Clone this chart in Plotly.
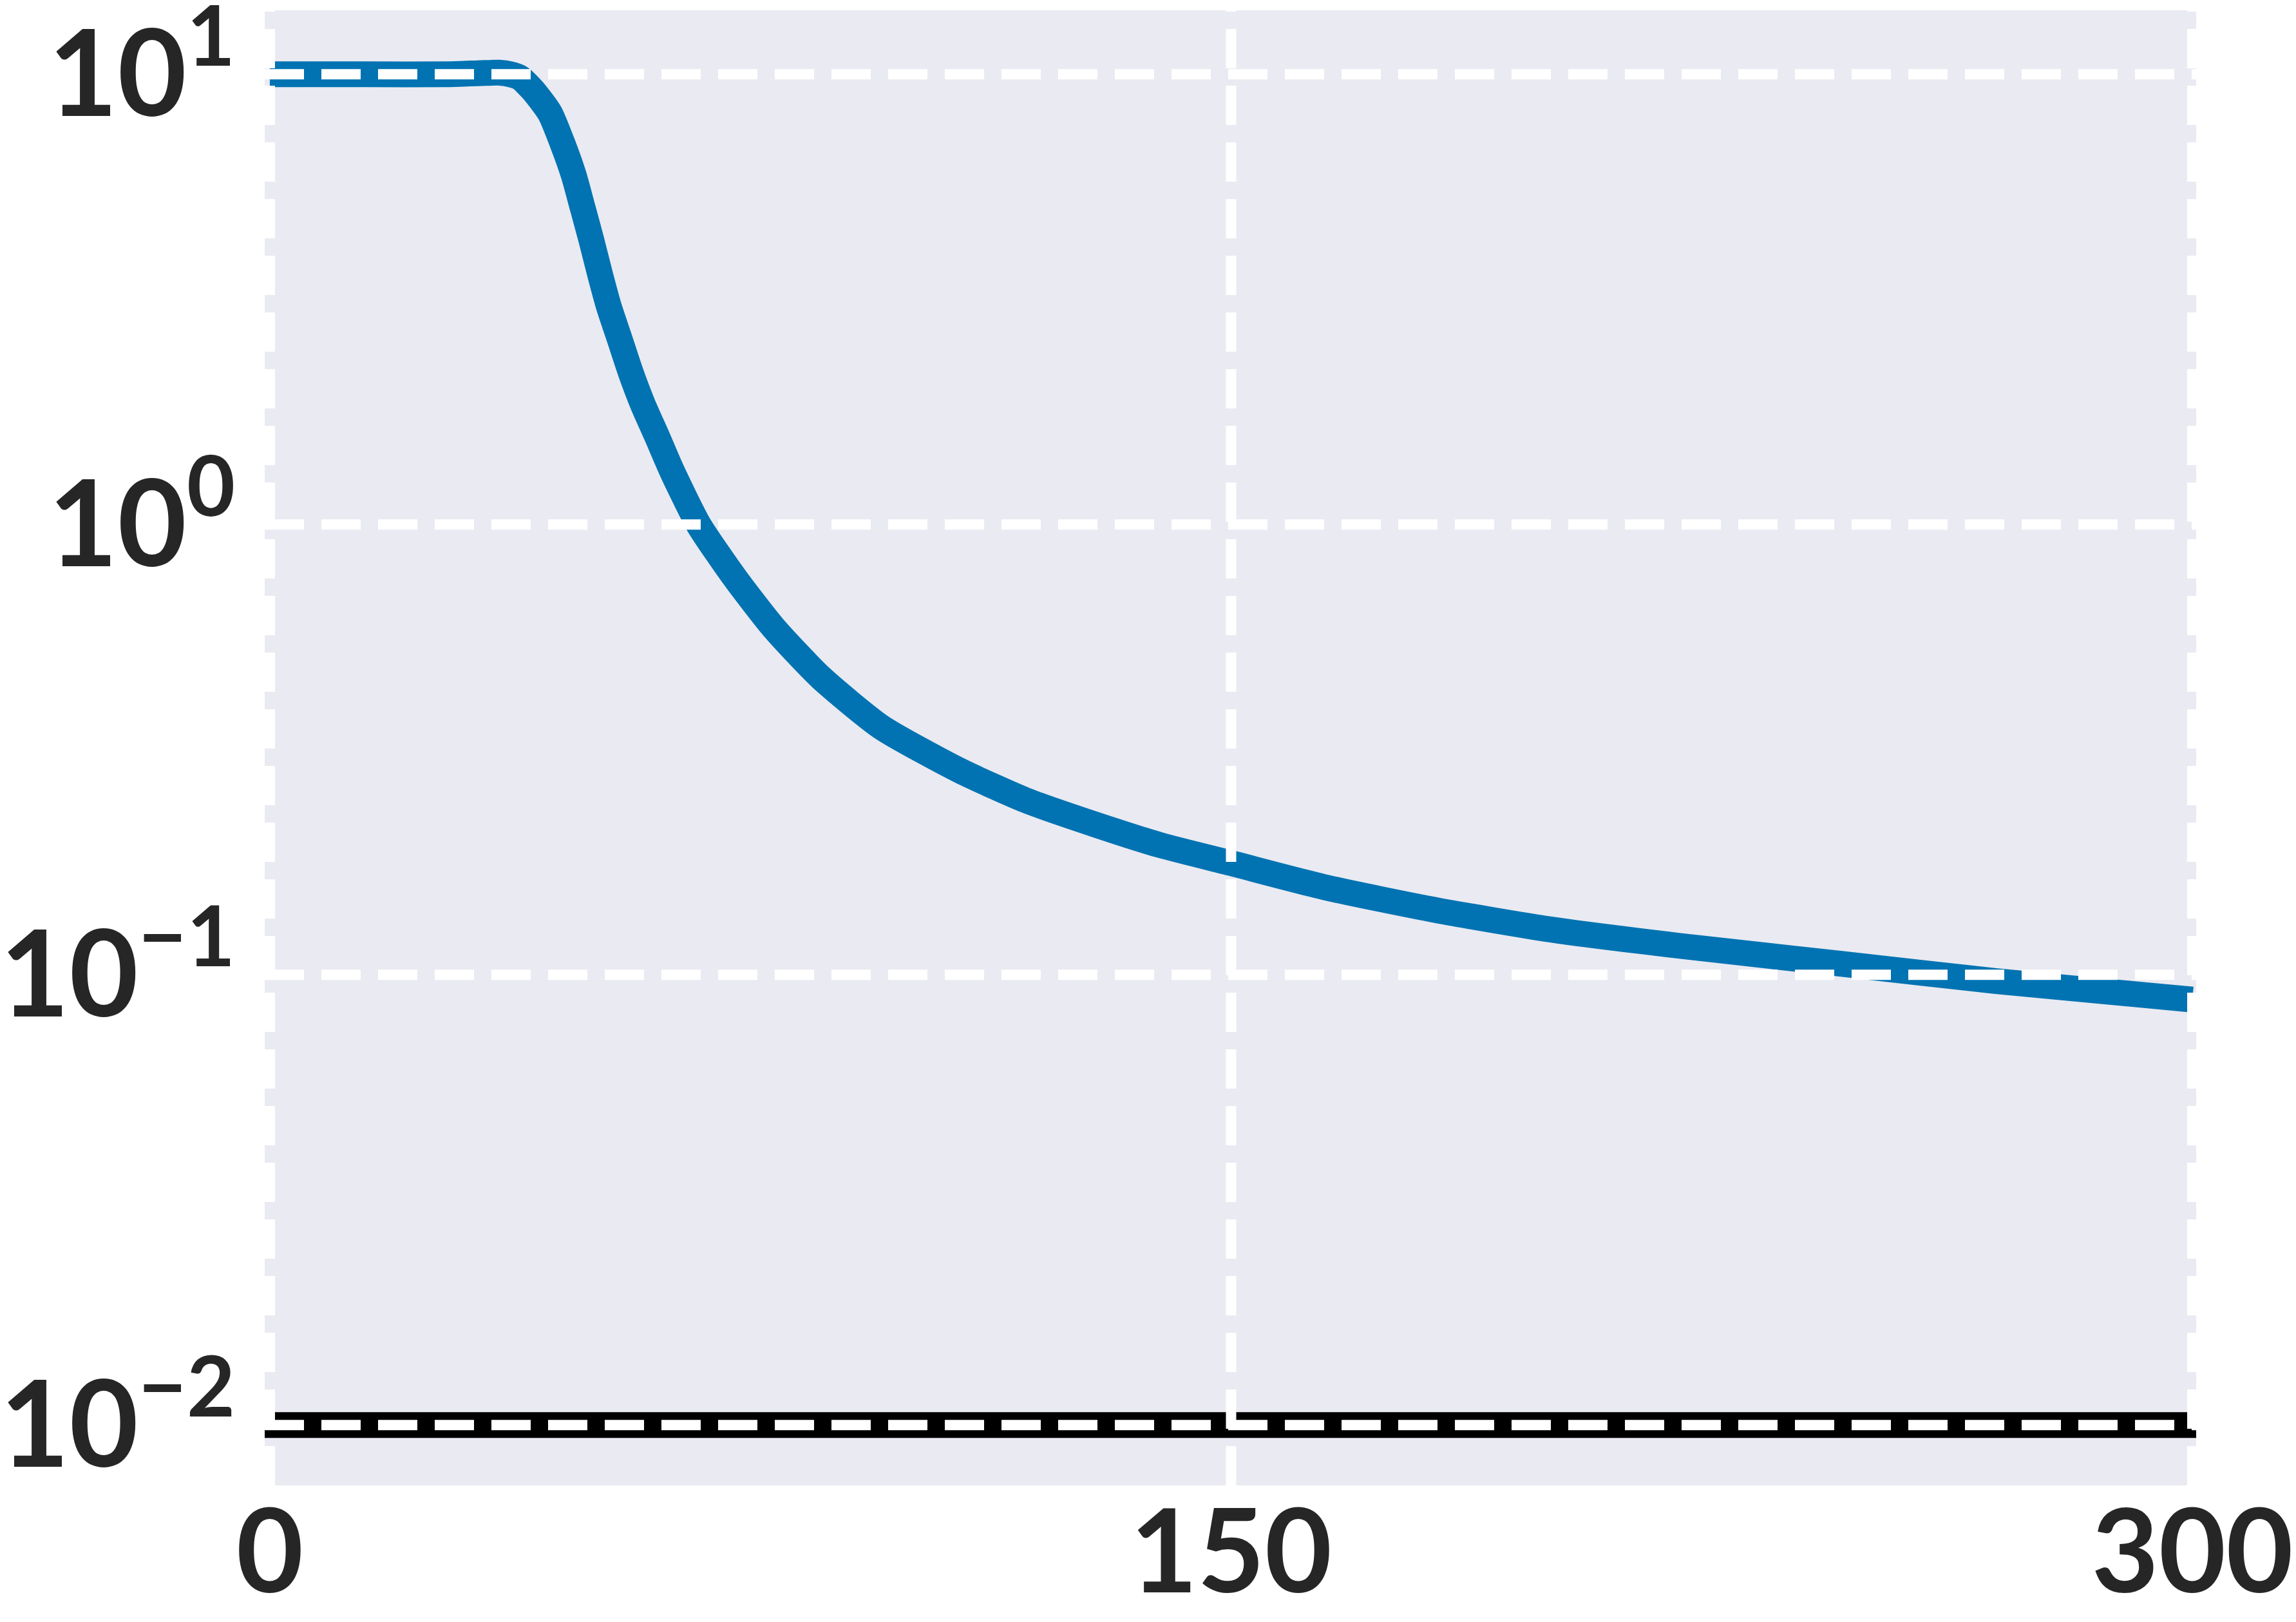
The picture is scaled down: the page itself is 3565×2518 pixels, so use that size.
import plotly.graph_objects as go

# courbe
epochs = [0, 15, 28, 33, 35.7, 37.5, 39.1, 41.1, 43.7, 45.7, 47.4, 48.8, 50.2,
          51.5, 52.9, 54.6, 56.3, 58.2, 60.5, 62.7, 66.9, 72.7, 78.7, 86.0, 95.4,
          107.7, 118, 129.1, 139, 150, 165, 182.2, 200, 219.9, 244.7, 269.4, 300]
loss = [10.0, 10.0, 10.0, 10.06, 10.08, 10.0, 9.81, 9.2, 8.2, 7.0, 5.98, 5.06,
        4.27, 3.61, 3.05, 2.58, 2.18, 1.85, 1.56, 1.32, 1.0, 0.757, 0.588, 0.457,
        0.355, 0.284, 0.244, 0.215, 0.194, 0.177, 0.156, 0.139, 0.126, 0.116,
        0.106, 0.0968, 0.0881]

threshold = 0.01

x_ticks = [0, 150, 300]
y_ticks = [0.01, 0.1, 1, 10]
y_ticktext = ['10<sup>−2</sup>', '10<sup>−1</sup>', '10<sup>0</sup>', '10<sup>1</sup>']

BLUE = '#0173B2'
BG = '#EAEAF2'
TEXT = '#262626'
GRID_DASH = '61px,27px'

fig = go.Figure()

fig.add_trace(go.Scatter(
    x=epochs, y=loss,
    mode='lines',
    line=dict(color=BLUE, width=40, shape='spline', smoothing=0.6),
    hoverinfo='skip',
    showlegend=False
))

shapes = [
    # ligne seuil noire
    dict(type='line', xref='paper', yref='y', x0=0, x1=1, y0=threshold, y1=threshold,
         line=dict(color='black', width=40), layer='below')
]
# grille pointillée au-dessus des courbes
for xv in x_ticks:
    shapes.append(dict(type='line', xref='x', yref='paper', x0=xv, x1=xv, y0=0, y1=1,
                       line=dict(color='white', width=16, dash=GRID_DASH), layer='above'))
for yv in y_ticks:
    shapes.append(dict(type='line', xref='paper', yref='y', x0=0, x1=1, y0=yv, y1=yv,
                       line=dict(color='white', width=16, dash=GRID_DASH), layer='above'))

fig.update_layout(
    width=3565, height=2518,
    margin=dict(l=403, r=163, t=8, b=220),
    paper_bgcolor='white',
    plot_bgcolor=BG,
    shapes=shapes,
    font=dict(family='Lato', color=TEXT, size=185, weight='bold'),
    xaxis=dict(
        range=[-0.8, 300.6],
        tickvals=x_ticks,
        ticktext=[str(v) for v in x_ticks],
        tickfont=dict(size=180),
        showgrid=False, zeroline=False, showline=False,
        ticks='', ticklabelstandoff=-15, automargin=False,
        ticklabeloverflow='allow',
    ),
    yaxis=dict(
        type='log',
        range=[-2.134, 1.142],
        tickvals=y_ticks,
        ticktext=y_ticktext,
        showgrid=False, zeroline=False, showline=False,
        ticks='', ticklabelstandoff=45, automargin=False,
        ticklabeloverflow='allow',
    ),
)

fig.write_html('out.html')
